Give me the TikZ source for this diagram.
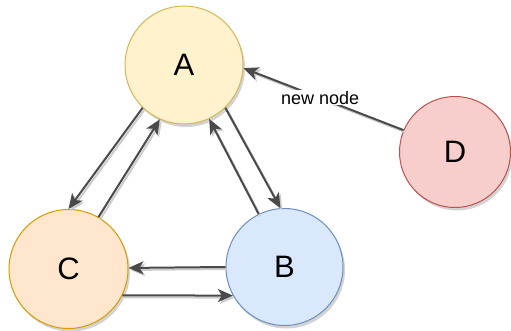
\documentclass[tikz,border=0pt]{standalone}
\usepackage{fontspec}
\setmainfont{Liberation Sans}
\usetikzlibrary{arrows.meta,shadows}
\definecolor{edgec}{HTML}{4A4A4A}
\definecolor{Afill}{HTML}{FFF2CC}\definecolor{Adraw}{HTML}{D6B656}
\definecolor{Bfill}{HTML}{DAE8FC}\definecolor{Bdraw}{HTML}{6C8EBF}
\definecolor{Cfill}{HTML}{FFE6CC}\definecolor{Cdraw}{HTML}{D79B00}
\definecolor{Dfill}{HTML}{F8CECC}\definecolor{Ddraw}{HTML}{B85450}
\begin{document}
\begin{tikzpicture}[x=1pt,y=-1pt,
  circ/.style={circle, draw, line width=1pt, inner sep=0pt,
    font=\fontsize{31}{31}\selectfont,
    drop shadow={shadow xshift=2pt, shadow yshift=-3pt, opacity=0.35, fill=gray}},
  link/.style={draw=edgec, line width=2pt,
    -{Stealth[length=15pt,width=13pt,inset=4pt]},
    preaction={draw=gray!40, line width=2pt,
      -{Stealth[length=15pt,width=13pt,inset=4pt]},
      transform canvas={shift={(1.8pt,-2pt)}}}},
  lbl/.style={fill=white, inner sep=1pt, font=\fontsize{18}{18}\selectfont}
]
\useasboundingbox (0,0) rectangle (511,331);
\node[circ, minimum size=118pt, fill=Afill, draw=Adraw] (A) at (184,65) {A};
\node[circ, minimum size=119pt, fill=Cfill, draw=Cdraw] (C) at (68.5,269) {C};
\node[circ, minimum size=117pt, fill=Bfill, draw=Bdraw] (B) at (284.5,267) {B};
\node[circ, minimum size=111pt, fill=Dfill, draw=Ddraw] (D) at (455,152) {D};
\draw[link] (A.226) -- (C.90);
\draw[link] (C.60) -- (A.246);
\draw[link] (B.116) -- (A.295);
\draw[link] (A.314) -- (B.94);
\draw[link] (B.180) -- (C.1);
\draw[link] (C.334) -- (B.209);
\draw[link] (D.157) -- node[lbl, pos=0.52] (L) {new node} (A.357);
\end{tikzpicture}
\end{document}
